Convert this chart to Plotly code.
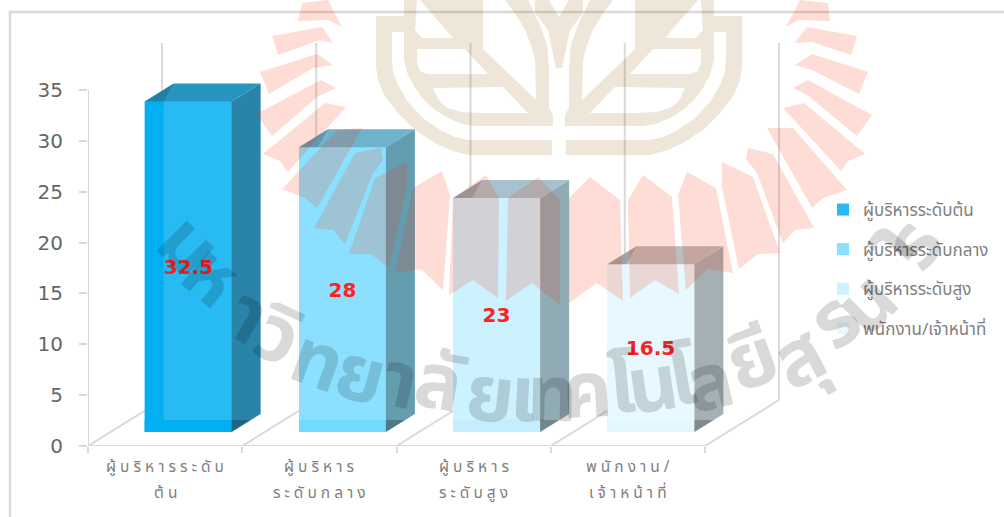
import plotly.graph_objects as go

# chart values
categories = ['ผู้บริหารระดับต้น', 'ผู้บริหารระดับกลาง', 'ผู้บริหารระดับสูง', 'พนักงาน/เจ้าหน้าที่']
values = [32.5, 28, 23, 16.5]
label_line1 = ['ผู้ บ ริ ห า ร ร ะ ดั บ', 'ผู้ บ ริ ห า ร', 'ผู้ บ ริ ห า ร', 'พ นั ก ง า น /']
label_line2 = ['ต้ น', 'ร ะ ดั บ ก ล า ง', 'ร ะ ดั บ สู ง', 'เ จ้ า ห น้ า ที่']
y_ticks = [0, 5, 10, 15, 20, 25, 30, 35]

# colours per bar
front_colors = ['#27BAF3', '#8CE0FF', '#CCF1FF', '#E8F8FF']
strip_colors = ['#00B0F0', '#73DAFF', '#C4EEFF', '#E4F7FF']
side_colors = ['#2A83A9', '#649CB0', '#91ABB5', '#A5B0B4']
top_colors = ['#2795C1', '#6EB2CC', '#A7C2CE', '#BBBEBF']

# pixel geometry of the 3d box, turned into axis units below
PX_X = 154.25
PX_Y = 10.17
LEFT, BOTTOM = 88, 446
BASE = 14 / PX_Y
BAR_W = 87 / PX_X
BAR_SHIFT = 23 / PX_X
DEPTH_X = 29 / PX_X
DEPTH_Y = 18 / PX_Y
STRIP_H = 12 / PX_Y
PANEL_X = 19 / PX_X
WALL_X = 74 / PX_X
WALL_Y = 46 / PX_Y
WALL_TOP = 403 / PX_Y
GRID = '#D9D9D9'
RED_WASH = 'rgba(243,48,0,0.165)'
TAN_WASH = 'rgba(144,92,0,0.153)'
GREY_WASH = 'rgba(0,0,0,0.15)'
THAI_FONT = 'Noto Sans Thai, Noto Sans, DejaVu Sans, sans-serif'


def paper_x(x):
    return (x - LEFT) / (1004 - LEFT)


def paper_y(y):
    return (BOTTOM - y) / BOTTOM


def poly_path(points):
    parts = [f'{paper_x(x):.4f},{paper_y(y):.4f}' for x, y in points]
    return 'M' + ' L'.join(parts) + ' Z'


def mirror(points):
    return [(1118 - x, y) for x, y in points]


def face(x, y, color):
    return go.Scatter(x=x, y=y, mode='lines', fill='toself', fillcolor=color,
                      line=dict(width=0), hoverinfo='skip', showlegend=False)


fig = go.Figure()

for i, (name, v) in enumerate(zip(categories, values)):
    fig.add_trace(go.Bar(
        x=[i + BAR_SHIFT], y=[v], base=BASE, width=BAR_W, name=name,
        legendgroup=name, marker=dict(color=front_colors[i], line=dict(width=0)),
        text=[f'{v:g}'], textposition='inside', insidetextanchor='middle',
        textangle=0, constraintext='none',
        textfont=dict(family='DejaVu Sans', size=20, color='#FF2020', weight='bold'),
    ))

for i, v in enumerate(values):
    l = i + BAR_SHIFT - BAR_W / 2
    r = l + BAR_W
    top = BASE + v
    fig.add_trace(face([l, r, r, l], [BASE, BASE, BASE + STRIP_H, BASE + STRIP_H], strip_colors[i]))
    if i == 0:
        fig.add_trace(face([l, l + PANEL_X, l + PANEL_X, l], [BASE, BASE, top, top], strip_colors[i]))
    fig.add_trace(face([r, r + DEPTH_X, r + DEPTH_X, r],
                       [BASE, BASE + DEPTH_Y, top + DEPTH_Y, top], side_colors[i]))
    fig.add_trace(face([l, l + DEPTH_X, r + DEPTH_X, r],
                       [top, top + DEPTH_Y, top + DEPTH_Y, top], top_colors[i]))
    # darker corners where the box folds
    fig.add_trace(face([l, l + PANEL_X, l + DEPTH_X], [top, top, top + DEPTH_Y], 'rgba(0,0,0,0.14)'))
    fig.add_trace(face([r, r + DEPTH_X * 0.66, r], [BASE, BASE + STRIP_H, BASE + STRIP_H], 'rgba(0,0,0,0.22)'))

shapes = []

# walls and floor sit behind the bars
def wall_line(x0, y0, x1, y1):
    shapes.append(dict(type='line', xref='x', yref='y', x0=x0, y0=y0, x1=x1, y1=y1,
                       layer='below', line=dict(color=GRID, width=2)))


for b in [-0.5, 0.5, 1.5, 2.5, 3.5]:
    wall_line(b, 0, b + WALL_X, WALL_Y)
    wall_line(b + WALL_X, WALL_Y, b + WALL_X, WALL_TOP)
wall_line(-0.5, 0, 3.5, 0)
wall_line(-0.5, 0, -0.5, 35)

# outer frame
shapes.append(dict(type='path', xref='paper', yref='paper', layer='below',
                   path=poly_path([(10, 12), (1020, 12), (1020, 530), (10, 530)]),
                   line=dict(color=GRID, width=2.5)))

# watermark seal: rays
rays = [
    [(302, 3), (328, 0), (342, 27), (328, 20), (298, 21)],
    [(272, 36), (322, 27), (333, 43), (320, 40), (278, 55)],
    [(260, 72), (317, 54), (333, 65), (313, 68), (269, 94)],
    [(256, 114), (321, 80), (336, 88), (317, 97), (272, 136)],
    [(263, 154), (325, 103), (346, 107), (288, 172), (280, 161)],
    [(282, 189), (337, 130), (362, 128), (317, 208), (305, 198)],
    [(355, 153), (381, 148), (383, 160), (372, 175), (345, 244), (333, 230), (314, 228)],
    [(375, 178), (407, 162), (407, 187), (389, 268), (371, 254), (349, 254)],
    [(413, 188), (442, 171), (450, 195), (443, 290), (421, 269), (395, 273)],
    [(453, 198), (486, 175), (499, 198), (498, 298), (473, 280), (449, 295)],
    [(508, 198), (538, 177), (560, 200), (560, 305), (532, 283), (506, 301)],
    [(569, 198), (590, 177), (620, 200), (623, 301), (597, 283), (569, 303)],
    [(628, 200), (643, 175), (672, 197), (679, 294), (655, 280), (630, 298)],
    [(678, 195), (687, 172), (716, 188), (733, 273), (707, 269), (686, 290)],
    [(722, 162), (753, 177), (780, 253), (758, 254), (739, 269), (722, 187)],
    [(748, 148), (773, 154), (814, 228), (795, 230), (783, 243), (757, 173), (746, 159)],
    [(767, 128), (793, 128), (847, 190), (823, 198), (812, 208)],
    [(783, 108), (804, 103), (865, 154), (848, 161), (841, 171)],
    [(793, 88), (808, 80), (872, 115), (857, 136), (807, 95)],
    [(795, 65), (812, 54), (868, 72), (859, 94), (812, 70)],
    [(795, 43), (807, 27), (857, 36), (851, 55), (812, 42)],
    [(786, 27), (800, 0), (828, 3), (830, 21), (798, 20)],
]
for ray in rays:
    shapes.append(dict(type='path', xref='paper', yref='paper', layer='above',
                       path=poly_path(ray), fillcolor=RED_WASH, line=dict(width=0)))

# watermark seal: leaf emblem, left half then mirrored
outer_band = [(376, 16), (376, 67), (378, 80), (384, 95), (398, 113), (415, 130), (435, 143), (450, 150),
              (468, 155), (552, 155), (552, 140), (468, 140), (455, 137), (442, 131), (424, 119),
              (408, 102), (398, 85), (393, 72), (392, 60), (392, 32), (404, 32), (404, 16)]
leaf = [(404, 0), (404, 60), (408, 75), (415, 88), (424, 100), (435, 110), (448, 118), (462, 124),
        (475, 126), (553, 126), (553, 115), (549, 108), (549, 68), (547, 45), (540, 25), (528, 0)]
window_a = [(417, 0), (420, 0), (453, 38), (422, 38), (415, 30)]
window_b = [(417, 49), (465, 49), (488, 74), (427, 74), (420, 71), (417, 63)]
window_c = [(433, 88), (503, 87), (528, 113), (482, 113), (462, 112), (448, 108), (441, 103), (437, 97)]
window_d = [(483, 0), (505, 0), (516, 15), (525, 30), (531, 45), (535, 60), (536, 100), (483, 49)]
spike = [(535, 0), (549, 0), (559, 17), (569, 0), (583, 0), (583, 13), (570, 30),
         (562, 68), (556, 68), (548, 30), (535, 13)]

leaf_path = ' '.join(poly_path(p) for p in [leaf, window_a, window_b, window_c, window_d])
leaf_mirror = ' '.join(poly_path(mirror(p)) for p in [leaf, window_a, window_b, window_c, window_d])
for path in [poly_path(outer_band), poly_path(mirror(outer_band)), leaf_path, leaf_mirror, poly_path(spike)]:
    shapes.append(dict(type='path', xref='paper', yref='paper', layer='above',
                       path=path, fillcolor=TAN_WASH, line=dict(width=0)))

annotations = []

# two line category labels
for i in range(len(categories)):
    for line, y_px in ((label_line1[i], 468), (label_line2[i], 493)):
        annotations.append(dict(text=line, x=i, xref='x', y=paper_y(y_px), yref='paper',
                                xanchor='center', yanchor='middle', showarrow=False,
                                font=dict(family=THAI_FONT, size=15.5, color='#7F7F7F')))

# curved watermark text, one cluster at a time
wm_text = ['ม', 'ห', 'า', 'วิ', 'ท', 'ย', 'า', 'ลั', 'ย', 'เ', 'ท', 'ค', 'โ', 'น', 'โ', 'ล', 'ยี', 'สุ', 'ร', 'น', 'า', 'ร']
wm_x = [187, 210, 247, 277, 317, 360, 400, 440, 490, 523, 552, 587, 623, 653, 683, 710, 753, 800, 836, 868, 890, 915]
wm_y = [247, 277, 318, 338, 363, 377, 383, 385, 397, 397, 397, 393, 388, 387, 380, 385, 362, 360, 322, 305, 245, 245]
wm_rot = [45, 40, 30, 25, 20, 15, 12, 10, 6, 3, 1, -3, -5, -8, -10, -13, -20, -28, -38, -45, -50, -55]
for ch, x, y, rot in zip(wm_text, wm_x, wm_y, wm_rot):
    annotations.append(dict(text=ch, x=paper_x(x), y=paper_y(y), xref='paper', yref='paper',
                            xanchor='center', yanchor='middle', textangle=rot, showarrow=False,
                            font=dict(family=THAI_FONT, size=78, color=GREY_WASH, weight='bold')))

fig.update_layout(
    width=1004, height=517,
    margin=dict(l=LEFT, r=0, t=0, b=517 - BOTTOM, pad=0),
    paper_bgcolor='white', plot_bgcolor='rgba(0,0,0,0)',
    barmode='overlay', bargap=0,
    shapes=shapes, annotations=annotations,
    legend=dict(x=paper_x(823), y=paper_y(192), xanchor='left', yanchor='top',
                bgcolor='rgba(0,0,0,0)', tracegroupgap=14.5, traceorder='grouped',
                font=dict(family=THAI_FONT, size=17, color='#7F7F7F')),
    showlegend=True,
    xaxis=dict(range=[-0.5, (1004 - LEFT) / PX_X - 0.5], showgrid=False, zeroline=False,
               showline=False, tickvals=[], fixedrange=True,
               minor=dict(tickvals=[-0.5, 0.5, 1.5, 2.5, 3.5], ticks='outside', ticklen=6,
                          tickcolor=GRID, tickwidth=2, showgrid=False)),
    yaxis=dict(range=[0, BOTTOM / PX_Y], showgrid=False, zeroline=False, showline=False,
               tickvals=y_ticks, ticks='outside', ticklen=8, tickcolor=GRID, tickwidth=2,
               ticklabelstandoff=12, fixedrange=True,
               tickfont=dict(family='DejaVu Sans', size=20, color='#666666')),
)

# the page's default body margin would push the figure 8px off
fig.write_html('out.html', config=dict(displayModeBar=False),
               post_script="document.body.style.margin='0';")
